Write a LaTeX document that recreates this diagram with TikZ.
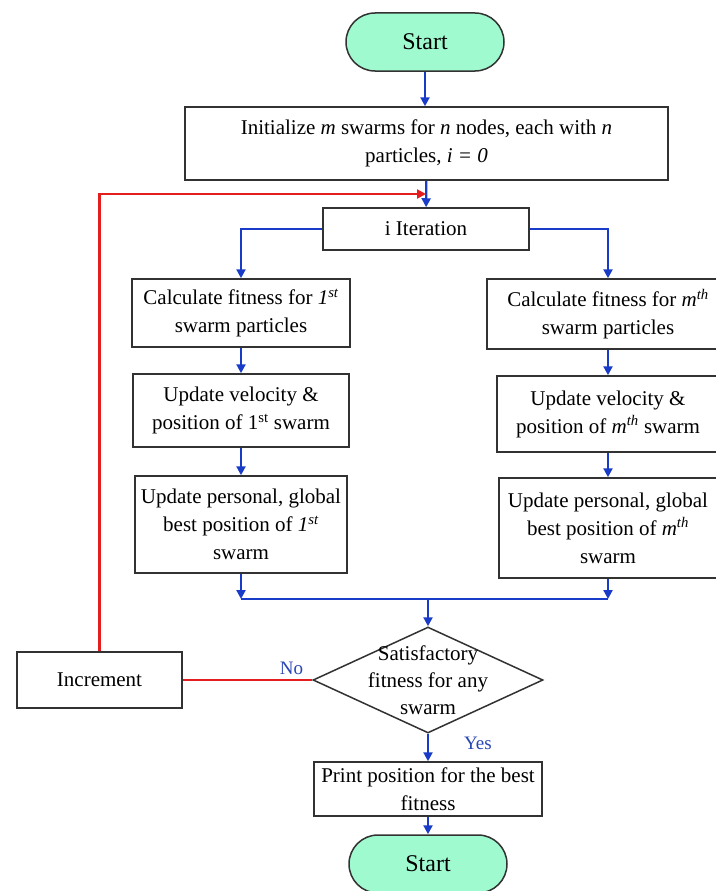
\documentclass[tikz,border=0pt]{standalone}
\usepackage{fontspec}
\setmainfont{Liberation Serif}
\usetikzlibrary{arrows.meta,shapes.geometric}
\definecolor{mint}{RGB}{160,250,208}
\definecolor{flowblue}{RGB}{25,60,200}
\definecolor{flowred}{RGB}{228,30,30}
\definecolor{labblue}{RGB}{40,70,180}
\definecolor{edge}{RGB}{50,50,50}
\begin{document}
\begin{tikzpicture}[x=1pt,y=-1pt,
  box/.style={draw=edge, line width=1.5pt, align=center, inner sep=0pt,
    font=\fontsize{21}{28}\selectfont},
  term/.style={draw=edge, line width=1.5pt, fill=mint, rounded corners=29pt,
    minimum width=158pt, minimum height=58pt, inner sep=0pt,
    font=\fontsize{24}{28}\selectfont},
  arr/.style={draw=flowblue, line width=2.2pt, -{Triangle[length=9pt,width=9pt]}},
  bline/.style={draw=flowblue, line width=2.2pt},
  rline/.style={draw=flowred, line width=2.2pt},
  lab/.style={text=labblue, font=\fontsize{19}{22}\selectfont, inner sep=0pt}]
\useasboundingbox[fill=white] (0,0) rectangle (715,891);

\node[term] (s1) at (425,42) {Start};
\node[box, minimum width=483pt, minimum height=73pt] (init) at (426.5,143.5)
  {Initialize \textit{m} swarms for \textit{n} nodes, each with \textit{n}\\ particles, \textit{i = 0}};
\node[box, minimum width=206pt, minimum height=42pt] (iter) at (426,229) {i Iteration};

\node[box, minimum width=218pt, minimum height=68pt] (l1) at (241,313)
  {Calculate fitness for \textit{1\textsuperscript{st}}\\swarm particles};
\node[box, minimum width=216pt, minimum height=73pt] (l2) at (241,410.5)
  {Update velocity \&\\position of 1\textsuperscript{st} swarm};
\node[box, minimum width=212pt, minimum height=97pt] (l3) at (241,524.5)
  {Update personal, global\\best position of \textit{1\textsuperscript{st}}\\swarm};

\node[box, minimum width=242pt, minimum height=70pt] (r1) at (608,314)
  {Calculate fitness for \textit{m\textsuperscript{th}}\\swarm particles};
\node[box, minimum width=222pt, minimum height=76pt] (r2) at (608,414)
  {Update velocity \&\\position of \textit{m\textsuperscript{th}} swarm};
\node[box, minimum width=218pt, minimum height=100pt] (r3) at (608,528)
  {Update personal, global\\best position of \textit{m\textsuperscript{th}}\\swarm};

\coordinate (merge) at (428,599);
\node[draw=edge, line width=1.5pt, diamond, aspect=2.17, minimum width=230pt,
  minimum height=106pt, inner sep=0pt] (dia) at (428,680) {};
\node[align=center, inner sep=0pt, font=\fontsize{21}{27}\selectfont] (diatext) at (dia.center)
  {Satisfactory\\fitness for any\\swarm};
\node[box, minimum width=165pt, minimum height=56pt] (inc) at (99.5,680) {Increment};
\node[box, minimum width=228pt, minimum height=54pt] (print) at (428,789)
  {Print position for the best\\fitness};
\node[term] (s2) at (428,864) {Start};

\coordinate (redin) at (426,194);

% connectors
\draw[arr] (s1) -- (s1 |- init.north);
\draw[arr] (init) -- (iter);
\draw[arr] (iter.west) -| (l1.north);
\draw[arr] (iter.east) -| (r1.north);
\draw[arr] (l1) -- (l2);
\draw[arr] (l2) -- (l3);
\draw[arr] (r1) -- (r2);
\draw[arr] (r2) -- (r3);
\draw[arr] (l3.south) -- (l3.south |- merge);
\draw[arr] (r3.south) -- (r3.south |- merge);
\draw[bline] (l3.south |- merge) -- (r3.south |- merge);
\draw[arr] (merge) -- (dia.north);
\draw[rline] (dia.west) -- node[lab, pos=0.16, above=4pt] (no) {No} (inc.east);
\draw[rline, -{Triangle[length=9pt,width=9pt]}] (inc.north) |- (redin);
\draw[arr] (dia.south) -- node[lab, right=35pt, pos=0.35] (yes) {Yes} (print.north);
\draw[arr] (print) -- (s2);
\end{tikzpicture}
\end{document}
